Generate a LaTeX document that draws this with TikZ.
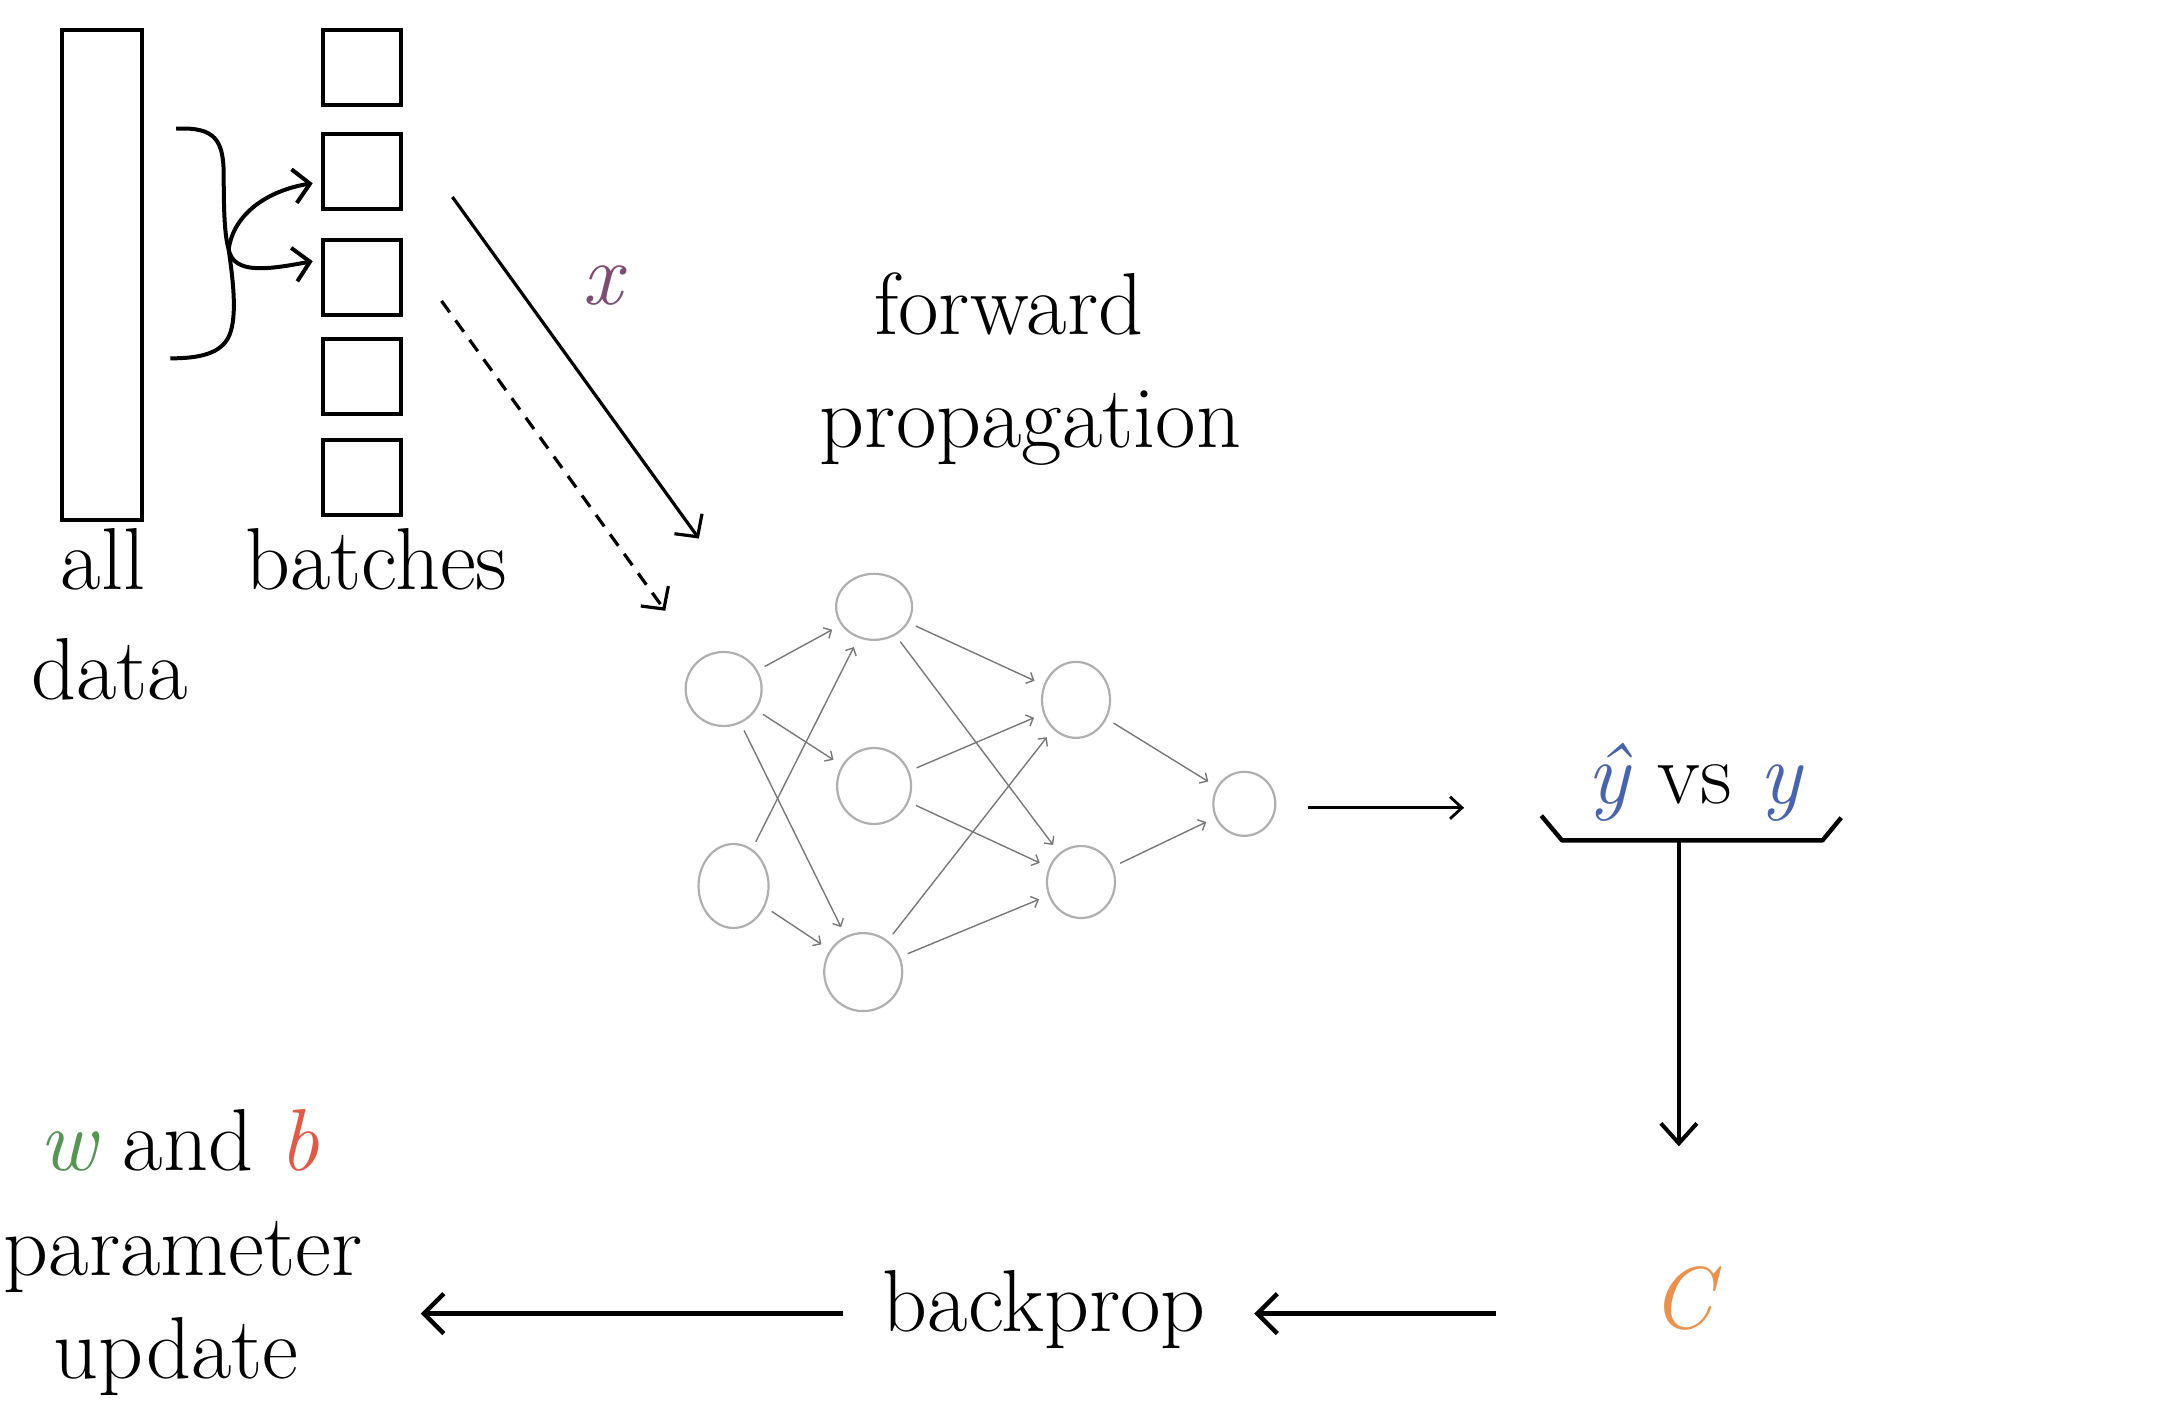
\documentclass[tikz,border=0pt]{standalone}
\usepackage{fontspec}
\usetikzlibrary{arrows.meta,shapes.geometric}
\definecolor{cpurple}{RGB}{125,75,115}
\definecolor{cblue}{RGB}{72,100,172}
\definecolor{cgreen}{RGB}{85,150,85}
\definecolor{cred}{RGB}{225,90,70}
\definecolor{corange}{RGB}{235,145,75}
\definecolor{ngray}{RGB}{175,175,175}
\definecolor{egray}{RGB}{120,120,120}
\begin{document}
\begin{tikzpicture}[x=0.495pt,y=-0.495pt,
  txt/.style={font=\fontsize{44}{50}\selectfont, inner sep=0pt, anchor=base},
  databox/.style={draw, line width=2.1pt, inner sep=0pt, minimum width=40pt, minimum height=245pt},
  batchbox/.style={draw, line width=2.1pt, inner sep=0pt, minimum width=39pt, minimum height=37.5pt},
  neuron/.style={draw=ngray, ellipse, line width=1.1pt, inner sep=0pt},
  nnedge/.style={draw=egray, line width=0.7pt, -{Straight Barb[length=3pt,width=6pt]}, shorten <=4pt, shorten >=5pt},
  bracearrow/.style={line width=2pt, -{Straight Barb[length=8pt,width=17pt]}},
  diagarrow/.style={line width=1.6pt, -{Straight Barb[length=8pt,width=17pt]}},
  bigarrow/.style={line width=2.2pt, -{Straight Barb[length=10pt,width=20pt]}},
  thinarrow/.style={line width=1.4pt, -{Straight Barb[length=6pt,width=11pt]}}
]
\useasboundingbox (0,0) rectangle (2180,1424.2);

% all data and batches
\node[databox] (all) at (103,278) {};
\node[batchbox] (b1) at (365.5,68) {};
\node[batchbox] (b2) at (365.5,173) {};
\node[batchbox] (b3) at (365.5,280) {};
\node[batchbox] (b4) at (365.5,380) {};
\node[batchbox] (b5) at (365.5,482) {};

\node[txt] (alltxt) at (104,596) {all};
\node[txt] (datatxt) at (111,707) {data};
\node[txt] (batchtxt) at (380,596) {batches};

% brace
\coordinate (bm) at (231,252);
\draw[line width=2pt] (178,130) .. controls (218,128) and (226,142) .. (226,178)
   .. controls (226,215) and (227,238) .. (bm)
   .. controls (235,280) and (240,318) .. (232,338)
   .. controls (224,358) and (200,362) .. (172,362);
\draw[bracearrow] (bm) .. controls (236,215) and (272,192) .. ([xshift=-4pt,yshift=-6pt]b2.west);
\draw[bracearrow] (bm) .. controls (236,278) and (272,272) .. ([xshift=-4pt,yshift=8pt]b3.west);

% input arrows
\coordinate (xs) at (457,199);
\coordinate (xe) at (706,544);
\coordinate (ds) at (446,304);
\coordinate (de) at (672,617);
\draw[diagarrow] (xs) -- (xe);
\draw[diagarrow, dash pattern=on 7pt off 5pt] (ds) -- (de);
\node[txt, text=cpurple] (xlab) at (608,308) {\itshape x};

\node[txt] (fwd) at (1019,338) {forward};
\node[txt] (prop) at (1041,452) {propagation};

% neural net
\node[neuron, minimum width=38pt, minimum height=37pt] (i1) at (731,696) {};
\node[neuron, minimum width=35pt, minimum height=42pt] (i2) at (741,895) {};
\node[neuron, minimum width=38pt, minimum height=33pt] (h1) at (883,613) {};
\node[neuron, minimum width=37pt, minimum height=38pt] (h2) at (883,794) {};
\node[neuron, minimum width=39pt, minimum height=39pt] (h3) at (872,982) {};
\node[neuron, minimum width=34pt, minimum height=38pt] (g1) at (1087,707) {};
\node[neuron, minimum width=34pt, minimum height=36pt] (g2) at (1092,891) {};
\node[neuron, minimum width=31pt, minimum height=32pt] (o) at (1257,812) {};

\foreach \a/\b in {i1/h1,i1/h2,i1/h3,i2/h1,i2/h3,h1/g1,h1/g2,h2/g1,h2/g2,h3/g1,h3/g2,g1/o,g2/o}
  \draw[nnedge] (\a) -- (\b);

% comparison
\coordinate (cmpL) at (1479,816);
\draw[thinarrow, shorten <=16pt] (o.east |- cmpL) -- (cmpL);
\node[txt] (cmp) at (1712,812) {{\color{cblue}\itshape \^{y}}\hspace{14pt}vs\hspace{14pt}{\color{cblue}\itshape y}};
\coordinate (bar) at (1696,849);
\draw[line width=2.2pt, line join=round] (1557,824) -- (1578,849) -- (1841,849) -- (1860,826);
\coordinate (vend) at (1696,1158);
\draw[line width=2pt, -{Straight Barb[length=10pt,width=18pt]}] (bar) -- (vend);

% cost and backprop
\node[txt, text=corange] (C) at (1699,1342) {\itshape C};
\node[txt] (bp) at (1055,1345) {backprop};
\coordinate (c1) at (1511,1327);
\coordinate (c2) at (1267,1327);
\coordinate (c3) at (852,1327);
\coordinate (c4) at (425,1327);
\draw[bigarrow] (c1) -- (c2);
\draw[bigarrow] (c3) -- (c4);

\node[txt] (wb) at (181,1182) {{\color{cgreen}\itshape w} and {\color{cred}\itshape b}};
\node[txt] (param) at (185,1288) {parameter};
\node[txt] (upd) at (178,1393) {update};
\end{tikzpicture}
\end{document}
